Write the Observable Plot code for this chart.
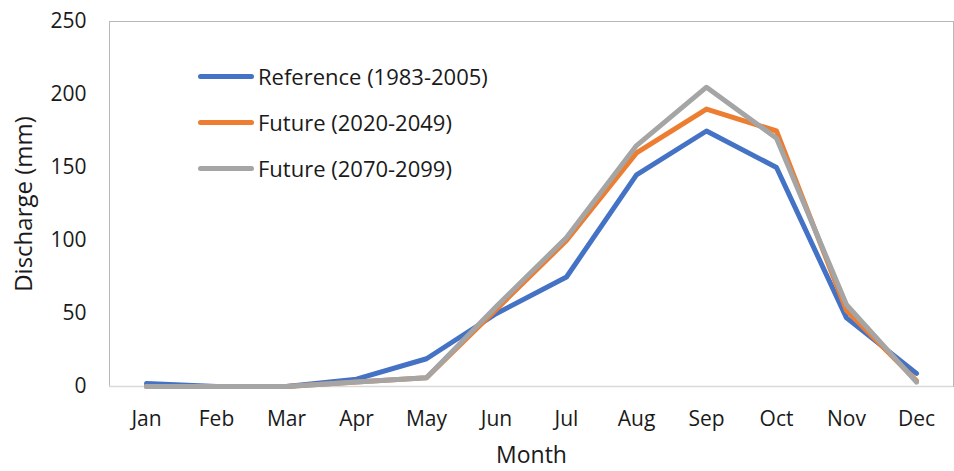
<!DOCTYPE html>
<html>
<head>
<meta charset="utf-8">
<script src="https://cdn.jsdelivr.net/npm/d3@7"></script>
<script src="https://cdn.jsdelivr.net/npm/@observablehq/plot@0.6"></script>
<style>
  html, body { margin: 0; padding: 0; background: #fff; }
  #wrap { position: relative; width: 954px; height: 471px; font-family: "Open Sans", Lato, sans-serif; }
  .legend { position: absolute; left: 198px; top: 53px; font-size: 22px; color: #1a1a1a; }
  .legend .item { display: flex; align-items: center; height: 46px; }
  .legend .sw { width: 56px; height: 5px; border-radius: 3px; margin-right: 4px; }
</style>
</head>
<body>
<div id="wrap"></div>
<script>
const months = ["Jan","Feb","Mar","Apr","May","Jun","Jul","Aug","Sep","Oct","Nov","Dec"];
const seriesNames = ["Reference (1983-2005)", "Future (2020-2049)", "Future (2070-2099)"];
const seriesColors = ["#4472C4", "#ED7D31", "#A5A5A5"];
const reference = [2, 0, 0, 5, 19, 50, 75, 145, 175, 150, 47, 9];
const future2020 = [0, 0, 0, 3, 6, 53, 100, 160, 190, 175, 52, 4];
const future2070 = [0, 0, 0, 3, 6, 55, 102, 165, 205, 170, 56, 3];
const yTicks = [0, 50, 100, 150, 200, 250];

const allValues = [reference, future2020, future2070];
const data = [];
allValues.forEach((vals, s) => vals.forEach((v, i) => data.push({month: months[i], value: v, series: seriesNames[s]})));

const font = "'Open Sans', Lato, sans-serif";
const chart = Plot.plot({
  width: 954,
  height: 471,
  marginLeft: 109,
  marginRight: 1,
  marginTop: 21,
  marginBottom: 85,
  style: {fontFamily: font, fontSize: "21px", color: "#1a1a1a", background: "#fff"},
  x: {type: "point", domain: months, padding: 0.5, label: null},
  y: {domain: [0, 250], ticks: yTicks, label: null},
  color: {domain: seriesNames, range: seriesColors},
  marks: [
    Plot.frame({anchor: "left", stroke: "#b8b8b8"}),
    Plot.frame({anchor: "top", stroke: "#b8b8b8"}),
    Plot.frame({anchor: "right", stroke: "#b8b8b8"}),
    Plot.ruleY([0], {stroke: "#d9d9d9", strokeWidth: 1.5}),
    Plot.axisY({ticks: yTicks, tickSize: 0, tickPadding: 23, label: null, fontSize: 21}),
    Plot.axisX({tickSize: 0, tickPadding: 25, label: null, fontSize: 21}),
    Plot.line(data, {x: "month", y: "value", z: "series", stroke: "series", strokeWidth: 5, strokeLinejoin: "round", strokeLinecap: "round"}),
    Plot.text(["Month"], {frameAnchor: "bottom", lineAnchor: "middle", dy: 69, fontSize: 23, fill: "#1a1a1a"}),
    Plot.text(["Discharge (mm)"], {frameAnchor: "left", textAnchor: "middle", lineAnchor: "middle", dx: -85, rotate: -90, fontSize: 24, fill: "#1a1a1a"})
  ]
});
const wrap = document.getElementById("wrap");
wrap.appendChild(chart);
const legend = document.createElement("div");
legend.className = "legend";
seriesNames.forEach((n, i) => {
  const it = document.createElement("div");
  it.className = "item";
  it.innerHTML = `<span class="sw" style="background:${seriesColors[i]}"></span><span>${n}</span>`;
  legend.appendChild(it);
});
wrap.appendChild(legend);
</script>
</body>
</html>
